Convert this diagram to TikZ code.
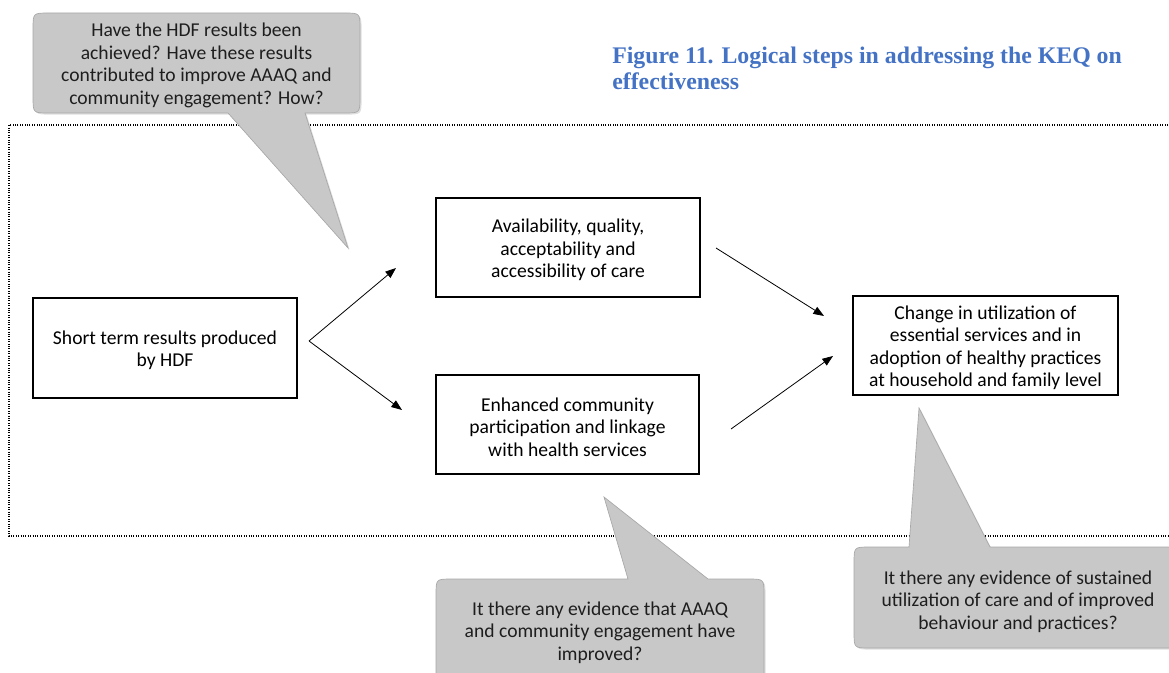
\documentclass[tikz,border=0pt]{standalone}
\usepackage{fontspec}
\setmainfont{Carlito}
\newfontfamily\titlefont{Liberation Serif}
\usetikzlibrary{arrows.meta,shadows}
\definecolor{titleblue}{HTML}{4472C4}
\definecolor{calloutfill}{HTML}{C8C8C8}
\definecolor{calloutline}{HTML}{A8A8A8}
\definecolor{calltext}{HTML}{1E1E1E}
\begin{document}
\begin{tikzpicture}[x=0.75pt,y=-0.75pt,
  txt/.style={font=\fontsize{14.7pt}{16.9pt}\selectfont, align=center, inner sep=0pt, yshift=-1.8pt},
  stepbox/.style={draw=black, line width=0.9pt, font=\fontsize{14.7pt}{16.9pt}\selectfont, align=center, inner sep=0pt},
  ctext/.style={txt, text=calltext},
  callout/.style={fill=calloutfill, draw=calloutline, line width=0.5pt,
    drop shadow={shadow xshift=1.2pt, shadow yshift=-1.2pt, opacity=0.25}},
  frame/.style={densely dotted, line width=0.8pt},
  arr/.style={line width=0.6pt, -{Triangle[length=8pt,width=6pt]}}]
\useasboundingbox (0,0) rectangle (1169,673);

% dotted frame
\draw[frame] (1180,125) -- (9,125) -- (9,536) -- (1180,536);

% boxes
\node[stepbox, minimum width=198pt, minimum height=75pt] (S) at (165,348) {};
\node[txt] (St) at (S.center) {Short term results produced\\by HDF};
\node[stepbox, minimum width=198pt, minimum height=74.25pt] (A) at (568,247.5) {};
\node[txt] (At) at (A.center) {Availability, quality,\\acceptability and\\accessibility of care};
\node[stepbox, minimum width=197.25pt, minimum height=74.25pt] (B) at (567.5,424.5) {};
\node[txt] (Bt) at (B.center) {Enhanced community\\participation and linkage\\with health services};
\node[stepbox, minimum width=198.75pt, minimum height=74.25pt] (C) at (985.5,345.5) {};
\node[txt] (Ct) at (C.center) {Change in utilization of\\essential services and in\\adoption of healthy practices\\at household and family level};

% arrows
\coordinate (s1) at (309,341);
\coordinate (a0) at (396,268);
\coordinate (b0) at (402,410);
\coordinate (a1) at (716,248);
\coordinate (c0) at (824,316);
\coordinate (b1) at (731,429);
\coordinate (c1) at (833,356);
\draw[arr] (s1) -- (a0);
\draw[arr] (s1) -- (b0);
\draw[arr] (a1) -- (c0);
\draw[arr] (b1) -- (c1);

% callouts
\draw[callout] (228,113) -- (348,248) -- (305,113) -- (344,113)
  .. controls (360,113) .. (360,97) -- (360,29)
  .. controls (360,13) .. (344,13) -- (49,13)
  .. controls (33,13) .. (33,29) -- (33,97)
  .. controls (33,113) .. (49,113) -- cycle;
\node[ctext] (q1) at (196.5,63)
  {Have the HDF results been\\achieved? Have these results\\contributed to improve AAAQ and\\community engagement? How?};

\draw[callout] (628,579) -- (604,497) -- (708,579) -- (748,579)
  .. controls (764,579) .. (764,595) -- (764,678) -- (436,678) -- (436,595)
  .. controls (436,579) .. (452,579) -- cycle;
\node[ctext] (q2) at (600,630)
  {It there any evidence that AAAQ\\and community engagement have\\improved?};

\draw[callout] (909,547) -- (919,408) -- (990,547) -- (1174,547) -- (1174,648) -- (870,648)
  .. controls (854,648) .. (854,632) -- (854,563)
  .. controls (854,547) .. (870,547) -- cycle;
\node[ctext] (q3) at (1018,599)
  {It there any evidence of sustained\\utilization of care and of improved\\behaviour and practices?};

% title
\node[anchor=north west, inner sep=0pt, align=left, text=titleblue,
  font=\titlefont\bfseries\fontsize{17.85pt}{19.6pt}\selectfont] (title) at (612,47)
  {Figure 11. Logical steps in addressing the KEQ on\\effectiveness};
\end{tikzpicture}
\end{document}
